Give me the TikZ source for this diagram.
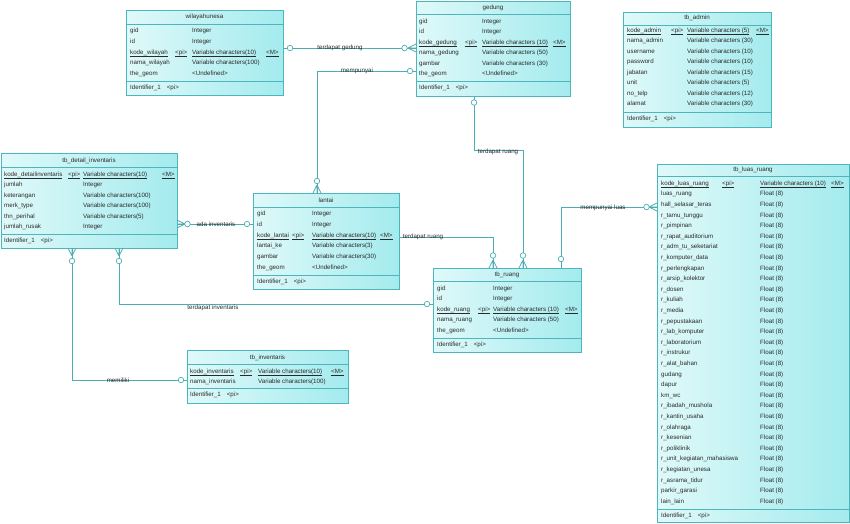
\documentclass[tikz,border=0pt]{standalone}
\usepackage{fontspec}
\setmainfont{Liberation Sans}
\newcommand\tf{\fontsize{6.2}{7}\selectfont}
\newcommand\ul[1]{\underline{\smash{#1}}}
\definecolor{entc}{HTML}{4DB6BC}
\definecolor{lnkc}{HTML}{4AAEB4}
\definecolor{txtc}{HTML}{2A2A2A}
\definecolor{fillL}{HTML}{DFF9F9}
\definecolor{fillR}{HTML}{A4EBEE}
\tikzset{
  ent/.style={draw=entc, line width=0.7pt, left color=fillL, right color=fillR, rectangle, inner sep=0pt, anchor=north west},
  eline/.style={draw=entc, line width=0.6pt},
  lnk/.style={draw=lnkc, line width=0.8pt},
  cell/.style={anchor=west, inner sep=0pt, font=\tf, text=txtc, text height=4.6pt, text depth=2pt},
  ttl/.style={anchor=center, inner sep=0pt, font=\tf, text=txtc},
  lbl/.style={inner sep=0pt, font=\tf, text=txtc},
  opt/.style={draw=lnkc, fill=white, line width=0.7pt, circle, inner sep=0pt, minimum size=5.5pt}
}
\newcounter{cc}
\newcommand\tx[2]{\stepcounter{cc}\node[cell] (t\arabic{cc}) at (#1) {#2};}
\newcommand\rw[3]{\tx{\xa,#1}{#2}\tx{\xt,#1}{#3}}
\newcommand\pk[3]{\tx{\xa,#1}{\ul{#2}}\tx{\xp,#1}{\ul{<pi>}}\tx{\xt,#1}{\ul{#3}}\tx{\xm,#1}{\ul{<M>}}}
\newcommand\idr[1]{\tx{\xa,#1}{Identifier\_1\hspace{6pt}<pi>}}
\newcommand\crowL[2]{\draw[lnk] (#1-8,#2) -- (#1,#2-4) (#1-8,#2) -- (#1,#2+4) (#1-8,#2) -- (#1,#2);}
\newcommand\crowR[2]{\draw[lnk] (#1+8,#2) -- (#1,#2-4) (#1+8,#2) -- (#1,#2+4) (#1+8,#2) -- (#1,#2);}
\newcommand\crowD[2]{\draw[lnk] (#1,#2-8) -- (#1-4,#2) (#1,#2-8) -- (#1+4,#2) (#1,#2-8) -- (#1,#2);}
\newcommand\crowU[2]{\draw[lnk] (#1,#2+8) -- (#1-4,#2) (#1,#2+8) -- (#1+4,#2) (#1,#2+8) -- (#1,#2);}
\begin{document}
\begin{tikzpicture}[x=1pt,y=-1pt]
\useasboundingbox (0,0) rectangle (850,523);

% ---------- entities ----------
% wilayahunesa
\node[ent, minimum width=157pt, minimum height=85pt] (wil) at (126,10) {};
\draw[eline] (wil.west |- 0,24) -- (wil.east |- 0,24) (wil.west |- 0,81) -- (wil.east |- 0,81);
\node[ttl] (wilT) at (204.5,17) {wilayahunesa};
\def\xa{130}\def\xp{175}\def\xt{192}\def\xm{266}
\rw{31}{gid}{Integer}
\rw{42}{id}{Integer}
\pk{53}{kode\_wilayah}{Variable characters(10)}
\rw{63.5}{nama\_wilayah}{Variable characters(100)}
\rw{74}{the\_geom}{<Undefined>}
\idr{88}

% gedung
\node[ent, minimum width=154pt, minimum height=95pt] (ged) at (416,1) {};
\draw[eline] (ged.west |- 0,14) -- (ged.east |- 0,14) (ged.west |- 0,81) -- (ged.east |- 0,81);
\node[ttl] (gedT) at (493,7.5) {gedung};
\def\xa{419}\def\xp{465}\def\xt{482}\def\xm{553}
\rw{22}{gid}{Integer}
\rw{32}{id}{Integer}
\pk{43}{kode\_gedung}{Variable characters (10)}
\rw{53}{nama\_gedung}{Variable characters (50)}
\rw{64}{gambar}{Variable characters (30)}
\rw{74}{the\_geom}{<Undefined>}
\idr{88}

% tb_admin
\node[ent, minimum width=148pt, minimum height=115pt] (adm) at (623,12) {};
\draw[eline] (adm.west |- 0,25) -- (adm.east |- 0,25) (adm.west |- 0,112) -- (adm.east |- 0,112);
\node[ttl] (admT) at (697,18) {tb\_admin};
\def\xa{627}\def\xp{671}\def\xt{687}\def\xm{756}
\pk{31}{kode\_admin}{Variable characters (5)}
\rw{41.5}{nama\_admin}{Variable characters (30)}
\rw{52}{username}{Variable characters (10)}
\rw{62.5}{password}{Variable characters (10)}
\rw{73}{jabatan}{Variable characters (15)}
\rw{83.5}{unit}{Variable characters (5)}
\rw{94}{no\_telp}{Variable characters (12)}
\rw{104.5}{alamat}{Variable characters (30)}
\idr{119}

% tb_detail_inventaris
\node[ent, minimum width=176pt, minimum height=95pt] (det) at (1,153) {};
\draw[eline] (det.west |- 0,167) -- (det.east |- 0,167) (det.west |- 0,234) -- (det.east |- 0,234);
\node[ttl] (detT) at (89,160.5) {tb\_detail\_inventaris};
\def\xa{4}\def\xp{68}\def\xt{83}\def\xm{162}
\pk{175}{kode\_detailinventaris}{Variable characters(10)}
\rw{185.5}{jumlah}{Integer}
\rw{196}{keterangan}{Variable characters(100)}
\rw{206.5}{merk\_type}{Variable characters(100)}
\rw{217}{thn\_perihal}{Variable characters(5)}
\rw{227.5}{jumlah\_rusak}{Integer}
\idr{241}

% lantai
\node[ent, minimum width=146pt, minimum height=96pt] (lan) at (253,193) {};
\draw[eline] (lan.west |- 0,207) -- (lan.east |- 0,207) (lan.west |- 0,275) -- (lan.east |- 0,275);
\node[ttl] (lanT) at (326,200.5) {lantai};
\def\xa{257}\def\xp{292}\def\xt{312}\def\xm{380}
\rw{214}{gid}{Integer}
\rw{225}{id}{Integer}
\pk{236}{kode\_lantai}{Variable characters(10)}
\rw{246.5}{lantai\_ke}{Variable characters(3)}
\rw{257}{gambar}{Variable characters(30)}
\rw{268}{the\_geom}{<Undefined>}
\idr{282}

% tb_ruang
\node[ent, minimum width=148pt, minimum height=84pt] (rua) at (433,268) {};
\draw[eline] (rua.west |- 0,281) -- (rua.east |- 0,281) (rua.west |- 0,338) -- (rua.east |- 0,338);
\node[ttl] (ruaT) at (507,275) {tb\_ruang};
\def\xa{437}\def\xp{478}\def\xt{493}\def\xm{565}
\rw{289}{gid}{Integer}
\rw{299.5}{id}{Integer}
\pk{310}{kode\_ruang}{Variable characters (10)}
\rw{320.5}{nama\_ruang}{Variable characters (50)}
\rw{331}{the\_geom}{<Undefined>}
\idr{345}

% tb_inventaris
\node[ent, minimum width=161pt, minimum height=53pt] (inv) at (187,350) {};
\draw[eline] (inv.west |- 0,364) -- (inv.east |- 0,364) (inv.west |- 0,388) -- (inv.east |- 0,388);
\node[ttl] (invT) at (267.5,357.5) {tb\_inventaris};
\def\xa{190}\def\xp{240}\def\xt{258}\def\xm{331}
\pk{372}{kode\_inventaris}{Variable characters(10)}
\rw{382.5}{nama\_inventaris}{Variable characters(100)}
\idr{395.5}

% tb_luas_ruang
\node[ent, minimum width=192pt, minimum height=358pt] (lua) at (657,164) {};
\draw[eline] (lua.west |- 0,176) -- (lua.east |- 0,176) (lua.west |- 0,509) -- (lua.east |- 0,509);
\node[ttl] (luaT) at (753,170) {tb\_luas\_ruang};
\def\xa{661}\def\xp{722}\def\xt{760}\def\xm{831}
\pk{184}{kode\_luas\_ruang}{Variable characters (10)}
\foreach \n [count=\i] in {luas\_ruang,hall\_selasar\_teras,r\_tamu\_tunggu,r\_pimpinan,r\_rapat\_auditorium,r\_adm\_tu\_seketariat,r\_komputer\_data,r\_perlengkapan,r\_arsip\_kolektor,r\_dosen,r\_kuliah,r\_media,r\_pepustakaan,r\_lab\_komputer,r\_laboratorium,r\_instrukur,r\_alat\_bahan,gudang,dapur,km\_wc,r\_ibadah\_mushola,r\_kantin\_usaha,r\_olahraga,r\_kesenian,r\_poliklinik,r\_unit\_kegiatan\_mahasiswa,r\_kegiatan\_unesa,r\_asrama\_tidur,parkir\_garasi,lain\_lain}{
  \node[cell] (ln\i) at (661,184+10.6*\i) {\n};
  \node[cell] (lt\i) at (760,184+10.6*\i) {Float (8)};
}
\idr{516}

% ---------- relationships ----------
% terdapat gedung
\draw[lnk] (wil.east |- 0,48) -- (ged.west |- 0,48);
\crowL{416}{48}
\node[opt] (o1a) at (290,48) {};
\node[opt] (o1b) at (404.5,48) {};
\node[lbl] (l1) at (340,48) {terdapat gedung};

% mempunyai
\draw[lnk] (ged.west |- 0,71) -| (lan.north -| 317,0);
\crowD{317}{193}
\node[opt] (o2a) at (410,71) {};
\node[opt] (o2b) at (317,181) {};
\node[lbl] (l2) at (357,70.5) {mempunyai};

% ada inventaris
\draw[lnk] (det.east |- 0,224) -- (lan.west |- 0,224);
\crowR{177}{224}
\node[opt] (o3a) at (187.5,224) {};
\node[opt] (o3b) at (247,224) {};
\node[lbl] (l3) at (216,224.5) {ada inventaris};

% terdapat ruang (lantai - tb_ruang)
\draw[lnk] (lan.east |- 0,237) -| (rua.north -| 493,0);
\crowD{493}{268}
\node[opt] (o4b) at (493,255.5) {};
\node[lbl] (l4) at (423,237) {terdapat ruang};

% terdapat ruang (gedung - tb_ruang)
\draw[lnk] (ged.south -| 474,0) |- (523,150) -- (rua.north -| 523,0);
\crowD{523}{268}
\node[opt] (o5a) at (474,102.5) {};
\node[opt] (o5b) at (523,255.5) {};
\node[lbl] (l5) at (498,152) {terdapat ruang};

% mempunyai luas
\draw[lnk] (rua.north -| 561,0) |- (lua.west |- 0,207);
\crowL{657}{207}
\node[opt] (o6a) at (561,259) {};
\node[opt] (o6b) at (646.5,207) {};
\node[lbl] (l6) at (603,208) {mempunyai luas};

% terdapat inventaris
\draw[lnk] (det.south -| 119,0) |- (rua.west |- 0,304);
\crowU{119}{248}
\node[opt] (o7a) at (119,261) {};
\node[opt] (o7b) at (427,304) {};
\node[lbl] (l7) at (213,308) {terdapat inventaris};

% memiliki
\draw[lnk] (det.south -| 72,0) |- (inv.west |- 0,380);
\crowU{72}{248}
\node[opt] (o8a) at (72,261) {};
\node[opt] (o8b) at (181,380) {};
\node[lbl] (l8) at (118,380) {memiliki};
\end{tikzpicture}
\end{document}
